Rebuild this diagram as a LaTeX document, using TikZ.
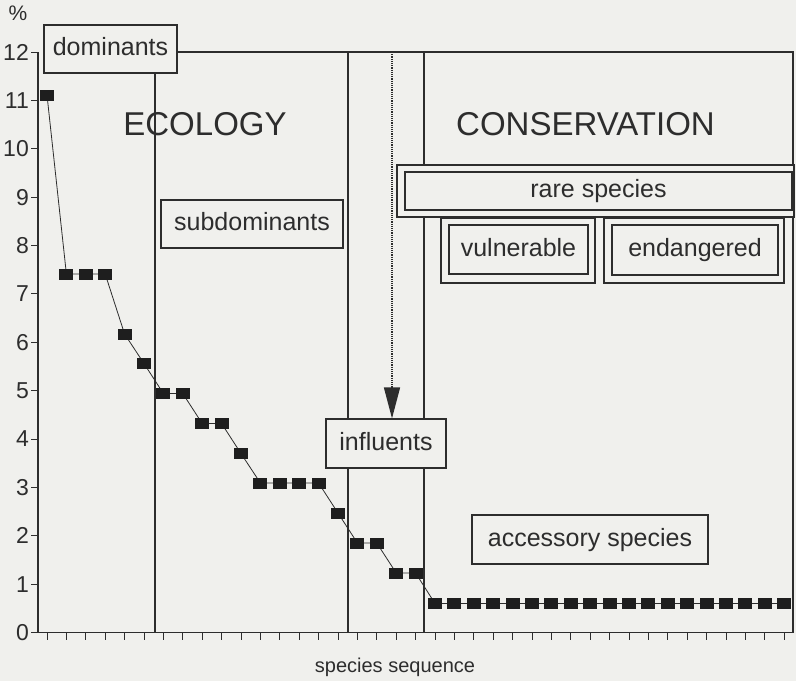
\documentclass[tikz,border=0pt]{standalone}
\usepackage{fontspec}
\setmainfont{Liberation Sans}
\usetikzlibrary{arrows.meta}
\definecolor{bg}{RGB}{240,240,237}
\definecolor{ink}{RGB}{45,45,45}
\definecolor{markc}{RGB}{30,30,30}
\pgfdeclarelayer{back}
\pgfsetlayers{back,main}
\begin{document}
\begin{tikzpicture}[x=1pt,y=-1pt,
  frame/.style={draw=ink,line width=1.2pt},
  tickline/.style={draw=ink,line width=1pt},
  boxlbl/.style={draw=ink,line width=1.1pt,fill=bg,text=ink,inner sep=0pt,anchor=center,text height=18pt,text depth=5pt,font=\fontsize{25}{30}\selectfont},
  outerbox/.style={draw=ink,line width=1.1pt,fill=bg,inner sep=0pt,anchor=center},
  bigtitle/.style={text=ink,inner sep=0pt,anchor=center,font=\fontsize{33}{38}\selectfont},
  ticklbl/.style={text=ink,inner sep=0pt,anchor=east,font=\fontsize{23}{27}\selectfont},
  mk/.style={fill=markc,inner sep=0pt,minimum width=14pt,minimum height=11pt},
  dataline/.style={draw=ink,line width=0.8pt}]
\begin{pgfonlayer}{back}
\fill[bg] (0,0) rectangle (796,681);
\end{pgfonlayer}
\useasboundingbox (0,0) rectangle (796,681);

% frame coordinates
\coordinate (o) at (38,632.5);
\coordinate (tl) at (38,52);
\coordinate (tr) at (793,52);
\coordinate (br) at (793,632.5);

% data coordinates
\foreach \v [count=\i] in {11.11,7.41,7.41,7.41,6.17,5.56,4.94,4.94,4.32,4.32,3.70,3.09,3.09,3.09,3.09,2.47,1.85,1.85,1.23,1.23,0.6,0.6,0.6,0.6,0.6,0.6,0.6,0.6,0.6,0.6,0.6,0.6,0.6,0.6,0.6,0.6,0.6,0.6,0.6}
  \coordinate (c\i) at ({47+(\i-1)*19.4},{632.5-\v*48.375});

% boxes
\node[boxlbl,minimum width=133pt,minimum height=48pt] (dom) at (110.5,49) {dominants};
\node[boxlbl,minimum width=182pt,minimum height=48pt] (sub) at (252,224) {subdominants};
\node[boxlbl,minimum width=120pt,minimum height=49pt] (infl) at (386,443.5) {influents};
\node[boxlbl,minimum width=236pt,minimum height=49pt] (acc) at (590,539.5) {accessory species};

\node[outerbox,minimum width=397pt,minimum height=52pt] (rareout) at (595.5,191) {};
\node[boxlbl,minimum width=387pt,minimum height=38pt] (rare) at (598.5,191) {rare species};

\node[outerbox,minimum width=154pt,minimum height=65pt] (vulout) at (518,250.5) {};
\node[boxlbl,minimum width=139pt,minimum height=49pt] (vul) at (518.5,249.5) {vulnerable};

\node[outerbox,minimum width=180pt,minimum height=65pt] (endout) at (694,250.5) {};
\node[boxlbl,minimum width=166pt,minimum height=50pt] (endg) at (695,250) {endangered};

% titles
\node[bigtitle] (eco) at (205,124) {ECOLOGY};
\node[bigtitle] (cons) at (585.5,124) {CONSERVATION};

\begin{pgfonlayer}{back}
% frame
\draw[frame] (tr -| dom.east) -- (tr) -- (br) -- (o) -- (tl);
\draw[frame] (o) -- (31,632.5);
% vertical separators
\coordinate (s1) at (155,52);
\coordinate (s2) at (348,52);
\coordinate (s3) at (424,52);
\draw[frame] (s1) -- (s1 |- o);
\draw[frame] (s2) -- (s2 |- o);
\draw[frame] (s3) -- (s3 |- o);
\end{pgfonlayer}

% y ticks and labels
\foreach \k in {0,...,12}{
  \coordinate (yt\k) at (38,{632.5-\k*48.375});
  \draw[tickline] (yt\k) -- ++(-7,0);
  \node[ticklbl] (yl\k) at ([xshift=-9pt]yt\k) {\k};
}
\node[text=ink,inner sep=0pt,font=\fontsize{21}{24}\selectfont] (pct) at (18,13) {\%};

% x ticks
\foreach \i in {1,...,39}
  \draw[tickline] (c\i |- o) -- ++(0,7);
\node[text=ink,inner sep=0pt,font=\fontsize{20}{24}\selectfont] (xlab) at (395,667) {species sequence};

% data line and markers
\draw[dataline] (c1) \foreach \i in {2,...,39}{ -- (c\i)};
\foreach \i in {1,...,39}
  \node[mk] (m\i) at (c\i) {};

% dotted arrow to influents
\coordinate (arrtop) at (392,52);
\draw[draw=ink,line width=1.3pt,dash pattern=on 1.2pt off 1pt,-{Triangle[length=31pt,width=16pt]}] (arrtop) -- (arrtop |- infl.north);
\end{tikzpicture}
\end{document}
